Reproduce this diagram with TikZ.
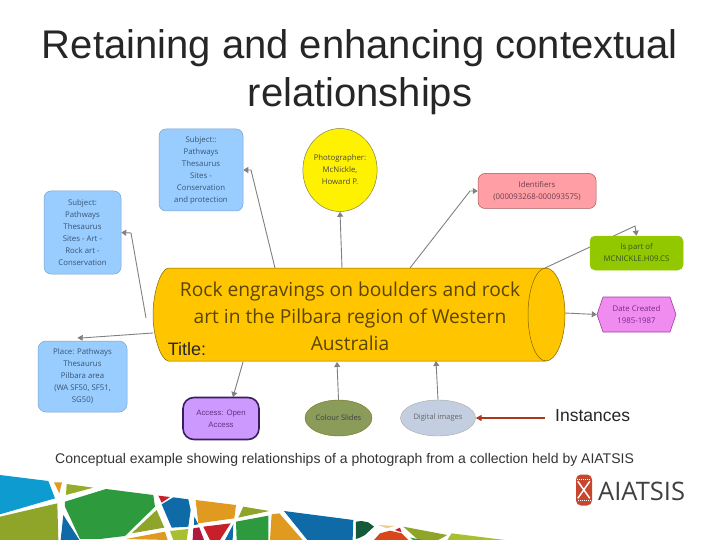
\documentclass[tikz,border=0pt]{standalone}
\usepackage{fontspec}
\setmainfont{Liberation Sans}
\newfontfamily\diafont{Open Sans}
\usetikzlibrary{arrows.meta,backgrounds,shapes.geometric}
\definecolor{bluebox}{HTML}{99CCFF}
\definecolor{mainfill}{HTML}{FFC600}
\definecolor{linegray}{HTML}{808080}
\definecolor{tcyan}{HTML}{0E9CD0}
\definecolor{tblue}{HTML}{0E6BA8}
\definecolor{torange}{HTML}{E09A20}
\definecolor{tolive}{HTML}{8FA52A}
\definecolor{tlime}{HTML}{A8C030}
\definecolor{tgreen}{HTML}{2E9A3E}
\definecolor{tred}{HTML}{C8202A}
\definecolor{tcrim}{HTML}{B01840}
\definecolor{tdark}{HTML}{145A3A}
\definecolor{tflame}{HTML}{D8471A}
\tikzset{
  box/.style={rounded corners=7pt,inner sep=0pt,line width=0.5pt,align=center,font=\diafont\fontsize{7.8}{12}\selectfont},
  subjectbox/.style={box,fill=bluebox,draw=bluebox!80!black,text={rgb,255:red,55;green,85;blue,115}},
  link/.style={draw=linegray,line width=0.9pt,-{Triangle[length=5pt,width=6pt]}},
  tile/.style={fill=#1,draw=none},
}
\begin{document}
\begin{tikzpicture}[x=1pt,y=-1pt]
\useasboundingbox (0,0) rectangle (720,540);
% title
\node[font=\fontsize{40}{47.5}\selectfont,align=center,text=black!85] (title) at (360,72) {Retaining and enhancing contextual\\relationships};
% main cylinder
\path[fill=mainfill,draw=black!50!mainfill,line width=0.5pt]
  (168,268) -- (546,268) .. controls (556,268) and (565,289) .. (565,314.5)
  .. controls (565,340) and (556,361) .. (546,361) -- (168,361)
  .. controls (160,359) and (153,335) .. (153,314.5)
  .. controls (153,294) and (160,270) .. (168,268) -- cycle;
\path[draw=black!50!mainfill,line width=0.5pt]
  (546,268) .. controls (536,268) and (528,289) .. (528,314.5)
  .. controls (528,340) and (536,361) .. (546,361);
\node[minimum width=412pt,minimum height=93pt,inner sep=0pt] (main) at (359,314.5) {};
\node[font=\diafont\fontsize{19.2}{27}\selectfont,align=center,text={rgb,255:red,90;green,68;blue,0}] (maintext) at (350,316)
  {Rock engravings on boulders and rock\\art in the Pilbara region of Western\\Australia};
\node[font=\fontsize{18}{20}\selectfont,text=black!85] (titlelabel) at (187,349) {Title:};
% nodes
\node[subjectbox,minimum width=84pt,minimum height=82pt] (sub1) at (201,170) {Subject::\\Pathways\\Thesaurus\\Sites -\\Conservation\\and protection};
\node[subjectbox,minimum width=77pt,minimum height=83pt] (sub2) at (82.5,232.5) {Subject:\\Pathways\\Thesaurus\\Sites - Art -\\Rock art -\\Conservation};
\node[subjectbox,minimum width=89pt,minimum height=71pt,rounded corners=8pt] (place) at (82.5,376.5) {Place: Pathways\\Thesaurus\\Pilbara area\\(WA SF50, SF51,\\SG50)};
\node[ellipse,fill=yellow,draw=black!55!yellow,line width=0.5pt,minimum width=74pt,minimum height=83pt,inner sep=0pt,align=center,
  font=\diafont\fontsize{7.8}{12}\selectfont,text=black!72] (photo) at (340,170) {Photographer:\\McNickle,\\Howard P.};
\node[box,draw=red!30!gray,fill={rgb,255:red,255;green,158;blue,165},minimum width=118pt,minimum height=35pt,text={rgb,255:red,110;green,60;blue,75}] (ident) at (537,191) {Identifiers\\(000093268-000093575)};
\node[box,draw=black!20!lime,fill={rgb,255:red,146;green,200;blue,0},minimum width=93pt,minimum height=34pt,rounded corners=5pt,text={rgb,255:red,55;green,85;blue,30}] (ispart) at (636.5,253) {Is part of\\MCNICKLE.H09.CS};
\node[minimum width=79pt,minimum height=35pt,inner sep=0pt,align=center] (datebase) at (636.5,314.5) {};
\path[fill={rgb,255:red,240;green,140;blue,240},draw=violet!75,line width=0.6pt]
  (603,297) -- (670,297) -- (676,314.5) -- (670,332) -- (603,332) -- (597,314.5) -- cycle;
\node[font=\diafont\fontsize{7.8}{12}\selectfont,align=center,text={rgb,255:red,120;green,40;blue,140}] (date) at (636.5,314.5) {Date Created\\1985-1987};
\node[fill={rgb,255:red,204;green,153;blue,255},draw={rgb,255:red,58;green,30;blue,94},line width=1.6pt,rounded corners=11pt,minimum width=76pt,minimum height=42pt,inner sep=0pt,align=center,
  font=\fontsize{7.8}{12}\selectfont,text={rgb,255:red,100;green,50;blue,130}] (access) at (221,418.5) {Access: Open\\Access};
\node[ellipse,fill={rgb,255:red,138;green,155;blue,90},draw=black!20!olive,line width=0.4pt,minimum width=67pt,minimum height=36pt,inner sep=0pt,
  font=\diafont\fontsize{7.5}{10}\selectfont,text=black!75] (slides) at (338.5,418) {Colour Slides};
\node[ellipse,fill={rgb,255:red,195;green,207;blue,224},draw=gray!70,line width=0.4pt,minimum width=75pt,minimum height=36pt,inner sep=0pt,
  font=\diafont\fontsize{7.5}{10}\selectfont,text=black!60] (images) at (438,418) {Digital images};
\node[font=\fontsize{17.5}{20}\selectfont,text=black!85,anchor=west,inner sep=0pt] (inst) at (555,416) {Instances};
\node[font=\fontsize{14}{16}\selectfont,text=black!80,anchor=west,inner sep=0pt] (caption) at (55,459.5) {Conceptual example showing relationships of a photograph from a collection held by AIATSIS};
% connector ends
\coordinate (m1) at (275,268);
\coordinate (m2) at (146,318);
\coordinate (m3) at (342,268);
\coordinate (m4) at (410,268);
\coordinate (m5) at (545,268);
\coordinate (m6) at (565,313);
\coordinate (m7) at (153,333);
\coordinate (m8) at (243,362);
\coordinate (m9) at (337,362);
\coordinate (m10) at (436,361);
\coordinate (a8) at (233,397);
\coordinate (redend) at (545,418);
\begin{pgfonlayer}{background}
\draw[link] (m1) -- (251,170) -- (sub1.east);
\draw[link] (m2) -- (131,233) -- (sub2.east);
\draw[link] (m3) -- (photo.south);
\draw[link] (m4) -- (470,191) -- (ident.west);
\draw[link] (m5) -- (635,226) -- (ispart.north);
\draw[link] (m6) -- (datebase.west);
\draw[link] (m7) -- (81,338) -- (place.north);
\draw[link] (m8) -- (a8);
\draw[link] (slides.north) -- (m9);
\draw[link] (images.north) -- (m10);
\end{pgfonlayer}
\draw[draw={rgb,255:red,170;green,55;blue,30},line width=1.6pt,-{Triangle[length=6pt,width=6pt]}] (redend) -- (images.east);
% mosaic
\begin{scope}[shift={(0,465)},x=0.3333pt,y=-0.3333pt]
\fill[tile=tcyan] (0,30)--(145,48)--(165,100)--(0,148)--cycle;
\fill[tile=torange] (162,52)--(186,52)--(178,85)--cycle;
\fill[tile=tolive!70!tlime] (200,57)--(280,68)--(198,90)--cycle;
\fill[tile=tgreen] (318,72)--(460,90)--(465,125)--(375,213)--(300,222)--(240,222)--(195,125)--(195,110)--cycle;
\fill[tile=tolive] (0,155)--(172,115)--(175,225)--(0,225)--cycle;
\fill[tile=tblue] (190,150)--(238,225)--(182,225)--cycle;
\fill[tile=tred] (475,92)--(510,96)--(485,113)--cycle;
\fill[tile=tblue] (485,118)--(520,97)--(565,103)--(572,135)--(565,185)--(515,188)--cycle;
\fill[tile=tolive] (470,135)--(493,188)--(395,205)--cycle;
\fill[tile=torange] (378,222)--(495,200)--(503,225)--cycle;
\fill[tile=tlime] (510,198)--(565,192)--(560,225)--(520,225)--cycle;
\fill[tile=torange] (587,105)--(708,120)--(703,160)--(595,175)--cycle;
\fill[tile=tblue] (583,155)--(595,178)--(582,180)--cycle;
\fill[tile=tolive] (730,125)--(808,138)--(715,158)--cycle;
\fill[tile=tred] (610,185)--(692,175)--(660,225)--(630,225)--cycle;
\fill[tile=tcrim] (580,190)--(598,187)--(612,225)--(578,225)--cycle;
\fill[tile=tblue] (700,178)--(698,225)--(675,225)--cycle;
\fill[tile=tgreen] (708,170)--(805,152)--(805,225)--(710,225)--cycle;
\fill[tile=torange] (815,148)--(838,145)--(908,225)--(810,225)--cycle;
\fill[tile=tblue] (852,138)--(1060,165)--(1058,225)--(922,225)--cycle;
\fill[tile=tdark] (1068,170)--(1085,168)--(1105,172)--(1122,185)--(1095,210)--(1080,218)--(1068,222)--cycle;
\fill[tile=torange!50!white] (1135,180)--(1185,183)--(1160,190)--cycle;
\fill[tile=tred] (1185,195)--(1200,188)--(1205,202)--cycle;
\fill[tile=tolive] (1210,185)--(1342,210)--(1315,225)--(1255,225)--cycle;
\fill[tile=tlime] (1355,205)--(1515,225)--(1342,225)--cycle;
\fill[tile=tflame] (1122,225)--(1140,205)--(1170,197)--(1205,205)--(1225,225)--cycle;
\fill[tile=tgreen] (1230,218)--(1270,225)--(1240,225)--cycle;
\end{scope}
% logo
\node[fill={rgb,255:red,200;green,70;blue,45},rounded corners=5pt,minimum width=16pt,minimum height=31pt,inner sep=0pt] (logo) at (584,490) {};
\draw[white,line width=1.5pt] (logo.north west)++(2,7) -- ++(12,17) ++(0,-17) -- ++(-12,17);
\draw[white,densely dotted,line width=1pt] (logo.north west)++(1,5) -- ++(14,0) ++(0,21) -- ++(-14,0);
\node[font=\diafont\fontsize{25.5}{26}\selectfont,text=black!75,anchor=west,inner sep=0pt] (logotext) at (598,491) {AIATSIS};
\end{tikzpicture}
\end{document}
